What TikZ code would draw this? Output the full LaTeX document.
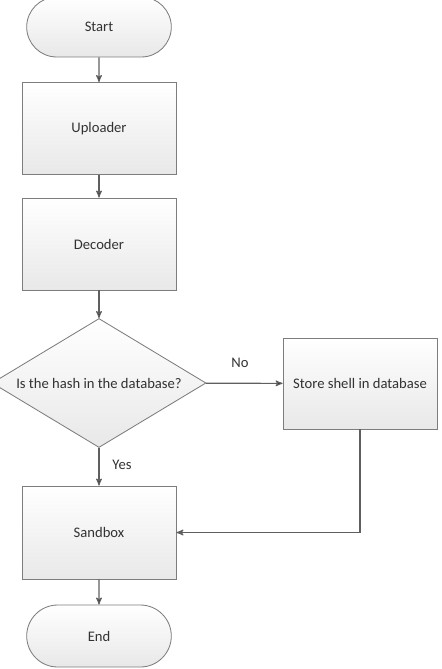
\documentclass[tikz,border=0pt]{standalone}
\usepackage{fontspec}
\setmainfont{Carlito}
\usetikzlibrary{arrows}
\usetikzlibrary{shapes.geometric}
\usetikzlibrary{shapes.misc}
\definecolor{edgegray}{RGB}{125,125,125}
\definecolor{linegray}{RGB}{95,95,95}
\definecolor{textgray}{RGB}{50,50,50}
\tikzstyle{term}=[rounded rectangle,draw=edgegray,semithick,top color=white,bottom color=black!9,text=textgray,font=\fontsize{10.4}{12}\selectfont,minimum width=3.85cm,minimum height=1.5cm]
\tikzstyle{proc}=[rectangle,draw=edgegray,semithick,top color=white,bottom color=black!9,text=textgray,font=\fontsize{10.4}{12}\selectfont,minimum width=3.85cm,minimum height=2.3cm]
\tikzstyle{decision}=[diamond,draw=edgegray,semithick,top color=white,bottom color=black!9,text=textgray,font=\fontsize{10.4}{12}\selectfont,aspect=1.66,inner sep=0pt,minimum width=5.35cm,minimum height=3.225cm]
\tikzstyle{arr}=[->,>=stealth',draw=linegray,thick]
\tikzstyle{lbl}=[text=textgray,font=\fontsize{10.4}{12}\selectfont]

\begin{document}
\begin{tikzpicture}
  \useasboundingbox (0,0) rectangle (11.025,-16.725);
  \node[term] (start) at (2.475,-0.675) {Start};
  \node[proc] (upload) at (2.475,-3.2125) {Uploader};
  \node[proc] (decode) at (2.475,-6.1) {Decoder};
  \node[decision] (hash) at (2.475,-9.575) {Is the hash in the database?};
  \node[proc,minimum height=2.275cm] (store) at (9.0,-9.5875) {Store shell in database};
  \node[proc,minimum height=2.325cm] (sandbox) at (2.475,-13.3125) {Sandbox};
  \node[term,minimum height=1.55cm] (end) at (2.475,-15.9) {End};
  \draw[arr] (start) edge (upload);
  \draw[arr] (upload) edge (decode);
  \draw[arr] (decode) edge (hash);
  \draw[arr] (hash) edge (store);
  \draw[arr] (hash) edge (sandbox);
  \draw[arr] (store.south) |- (sandbox.east);
  \draw[arr] (sandbox) edge (end);
  \node[lbl] (no) at (6.0,-9.075) {No};
  \node[lbl] (yes) at (3.05,-11.625) {Yes};
\end{tikzpicture}
\end{document}
